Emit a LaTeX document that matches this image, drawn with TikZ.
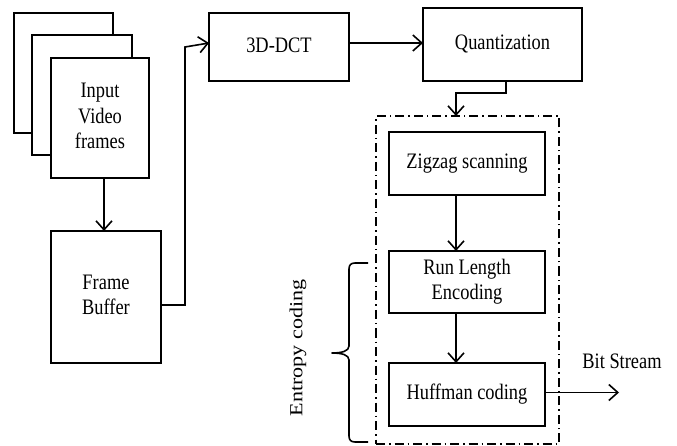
\documentclass[tikz,border=0pt]{standalone}
\usepackage{fontspec}
\usepackage{graphicx}
\setmainfont{Liberation Serif}
\usetikzlibrary{arrows.meta}
\newcommand\stx[1]{\scalebox{1}[1.2]{\begin{tabular}{@{}c@{}}#1\end{tabular}}}
\tikzset{
  blk/.style={draw, line width=1.6pt, fill=white, inner sep=0pt, outer sep=0pt,
    font=\fontsize{18.4}{21}\selectfont},
  arr/.style={line width=1.6pt, -{Straight Barb[length=9pt,width=16pt,line width=1.6pt]}},
  conn/.style={line width=1.6pt},
  dashdot/.style={draw, line width=1.3pt, dash pattern=on 9pt off 4pt on 1.5pt off 4pt},
  txt/.style={font=\fontsize{18.4}{21}\selectfont, inner sep=0pt}
}
\begin{document}
\begin{tikzpicture}[x=1pt,y=-1pt]
\useasboundingbox (0,0) rectangle (677,446);
\fill[white] (0,0) rectangle (677,446);
% stacked frames
\node[blk, minimum width=99pt, minimum height=120pt] (back) at (63.5,73) {};
\node[blk, minimum width=100pt, minimum height=120pt] (middle) at (82,95) {};
\node[blk, minimum width=98pt, minimum height=120pt] (front) at (100,118) {\stx{Input\\Video\\frames}};
\node[blk, minimum width=110pt, minimum height=132pt] (buffer) at (106,297) {\stx{Frame\\Buffer}};
\node[blk, minimum width=140pt, minimum height=68pt] (dct) at (279,47) {\stx{3D-DCT}};
\node[blk, minimum width=159pt, minimum height=73pt] (quant) at (502.5,44.5) {\stx{Quantization}};
% entropy box
\node[dashdot, minimum width=183pt, minimum height=328pt, inner sep=0pt, outer sep=0pt] (ent) at (467.5,280) {};
\node[blk, minimum width=156pt, minimum height=63pt] (zig) at (467,163.5) {\stx{Zigzag scanning}};
\node[blk, minimum width=156pt, minimum height=62pt] (rle) at (467,282) {\stx{Run Length\\Encoding}};
\node[blk, minimum width=156pt, minimum height=63pt] (huff) at (467,394.5) {\stx{Huffman coding}};
\coordinate (ax) at (456,0);
\coordinate (bitend) at (619,0);
\coordinate (bus) at (185,0);
% connectors
\draw[arr] ([xshift=4pt]front.south) -- ([xshift=4pt]front.south |- buffer.north);
\draw[arr] ([yshift=-8pt]buffer.east) -| (bus |- dct.west) -- ([yshift=4pt]dct.west);
\draw[arr] ([yshift=4pt]dct.east) -- ([yshift=4pt]dct.east -| quant.west);
\draw[arr] ([xshift=3.5pt]quant.south) -- ++(0,12) -| (ax |- ent.north);
\draw[arr] (ax |- zig.south) -- (ax |- rle.north);
\draw[arr] (ax |- rle.south) -- (ax |- huff.north);
\draw[arr] ([yshift=2pt]huff.east) -- ([yshift=2pt]huff.east -| bitend);
\node[txt, anchor=base] (bit) at (622,368) {\scalebox{1}[1.2]{Bit Stream}};
% brace
\coordinate (bt) at (368,263);
\coordinate (bb) at (368,442);
\draw[conn, line join=round] (bt) -- (355,263) .. controls (351,263) and (349,265) .. (349,269)
  -- (349,346) .. controls (349,351) and (342,353) .. (332,353)
  .. controls (342,353) and (349,355) .. (349,360)
  -- (349,436) .. controls (349,440) and (351,442) .. (355,442) -- (bb);
\node[txt, rotate=90] (entlbl) at (298,348) {\scalebox{1.2}[1]{Entropy coding}};
\end{tikzpicture}
\end{document}
